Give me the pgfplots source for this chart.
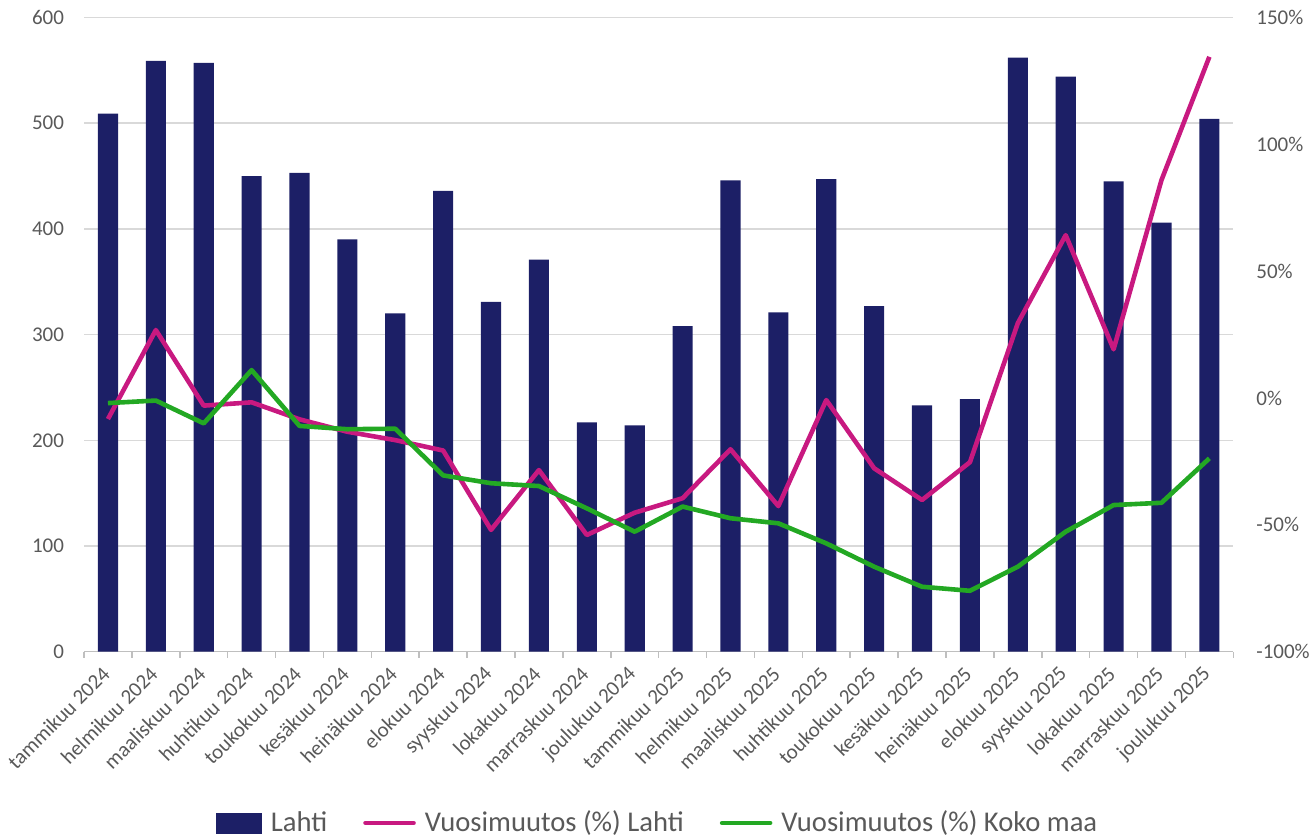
\documentclass[border=0pt]{standalone}
\usepackage{fontspec}
\setmainfont{Carlito}
\usepackage{pgfplots}
\pgfplotsset{compat=1.18}
\definecolor{barblue}{RGB}{28,31,102}
\definecolor{lahtimag}{RGB}{200,25,128}
\definecolor{kokogreen}{RGB}{35,168,35}
\definecolor{gridgray}{RGB}{217,217,217}
\definecolor{axgray}{RGB}{191,191,191}
\definecolor{txtgray}{RGB}{89,89,89}
\begin{document}
\begin{tikzpicture}
\path[use as bounding box] (0,0) rectangle (658pt,419pt);
\begin{axis}[
  at={(42pt,93.15pt)}, anchor=south west,
  scale only axis, width=574.65pt, height=317.1pt,
  xmin=-0.5, xmax=23.5, ymin=0, ymax=600,
  ytick={0,100,...,600},
  xtick={0,...,23},
  xticklabels={tammikuu 2024, helmikuu 2024, maaliskuu 2024, huhtikuu 2024, toukokuu 2024, kesäkuu 2024, heinäkuu 2024, elokuu 2024, syyskuu 2024, lokakuu 2024, marraskuu 2024, joulukuu 2024, tammikuu 2025, helmikuu 2025, maaliskuu 2025, huhtikuu 2025, toukokuu 2025, kesäkuu 2025, heinäkuu 2025, elokuu 2025, syyskuu 2025, lokakuu 2025, marraskuu 2025, joulukuu 2025},
  minor xtick={-0.5,0.5,...,23.5},
  ymajorgrids, major grid style={gridgray, line width=0.75pt},
  axis x line*=bottom, axis y line*=left,
  y axis line style={draw=none},
  x axis line style={axgray, line width=0.75pt, -},
  major tick length=0pt, minor tick length=3pt, tick align=outside,
  minor x tick style={axgray, line width=0.75pt},
  /pgf/number format/assume math mode=true,
  ticklabel style={font=\fontsize{10.5}{12}\selectfont, text=txtgray},
  yticklabel style={xshift=-6.5pt},
  xticklabel style={yshift=-7pt, xshift=1.5pt, rotate=45, anchor=east},
]
\addplot[ybar, bar width=0.42, fill=barblue, draw=none] coordinates {
(0,509) (1,559) (2,557) (3,450) (4,453) (5,390) (6,320) (7,436)
(8,331) (9,371) (10,217) (11,214) (12,308) (13,446) (14,321) (15,447)
(16,327) (17,233) (18,239) (19,562) (20,544) (21,445) (22,406) (23,504)};
\end{axis}
\begin{axis}[
  at={(42pt,93.15pt)}, anchor=south west,
  scale only axis, width=574.65pt, height=317.1pt,
  xmin=-0.5, xmax=23.5, ymin=-100, ymax=150,
  axis x line=none, axis y line*=right,
  y axis line style={draw=none},
  ytick={-100,-50,...,150},
  yticklabel={\pgfmathprintnumber{\tick}\%},
  major tick length=0pt,
  /pgf/number format/assume math mode=true,
  yticklabel style={font=\fontsize{10.5}{12}\selectfont, text=txtgray, anchor=west, xshift=8pt},
  legend style={at={(0.5,-0.27)}, anchor=center, draw=none, fill=none,
    legend columns=3, font=\fontsize{14.3}{16}\selectfont, text=txtgray,
    nodes={inner sep=2pt},
    /tikz/every odd column/.append style={column sep=2.5pt},
    /tikz/every even column/.append style={column sep=16pt}},
]
\addlegendimage{legend image code/.code={\fill[barblue] (0pt,-5pt) rectangle (22.5pt,5pt);}}
\addlegendentry{Lahti}
\addplot[lahtimag, line width=2.3pt, line join=round,
  legend image code/.code={\draw[lahtimag, line width=2.3pt, line cap=round] (0pt,0pt) -- (24pt,0pt);}] coordinates {
(0,-8.3) (1,26.8) (2,-3.0) (3,-1.7) (4,-8.4) (5,-13.3) (6,-16.6) (7,-20.7)
(8,-52.0) (9,-28.4) (10,-54.0) (11,-45.2) (12,-39.5) (13,-20.2) (14,-42.6) (15,-0.8)
(16,-27.7) (17,-40.2) (18,-25.3) (19,29.5) (20,64.2) (21,19.2) (22,85.9) (23,134.5)};
\addlegendentry{Vuosimuutos (\%) Lahti}
\addplot[kokogreen, line width=2.3pt, line join=round,
  legend image code/.code={\draw[kokogreen, line width=2.3pt, line cap=round] (0pt,0pt) -- (24pt,0pt);}] coordinates {
(0,-2.0) (1,-1.0) (2,-10.0) (3,11.0) (4,-11.0) (5,-12.3) (6,-12.1) (7,-30.5)
(8,-33.6) (9,-34.7) (10,-43.5) (11,-52.7) (12,-42.8) (13,-47.4) (14,-49.4) (15,-57.3)
(16,-66.5) (17,-74.4) (18,-76.0) (19,-66.5) (20,-52.7) (21,-42.2) (22,-41.3) (23,-23.8)};
\addlegendentry{Vuosimuutos (\%) Koko maa}
\end{axis}
\end{tikzpicture}
\end{document}
